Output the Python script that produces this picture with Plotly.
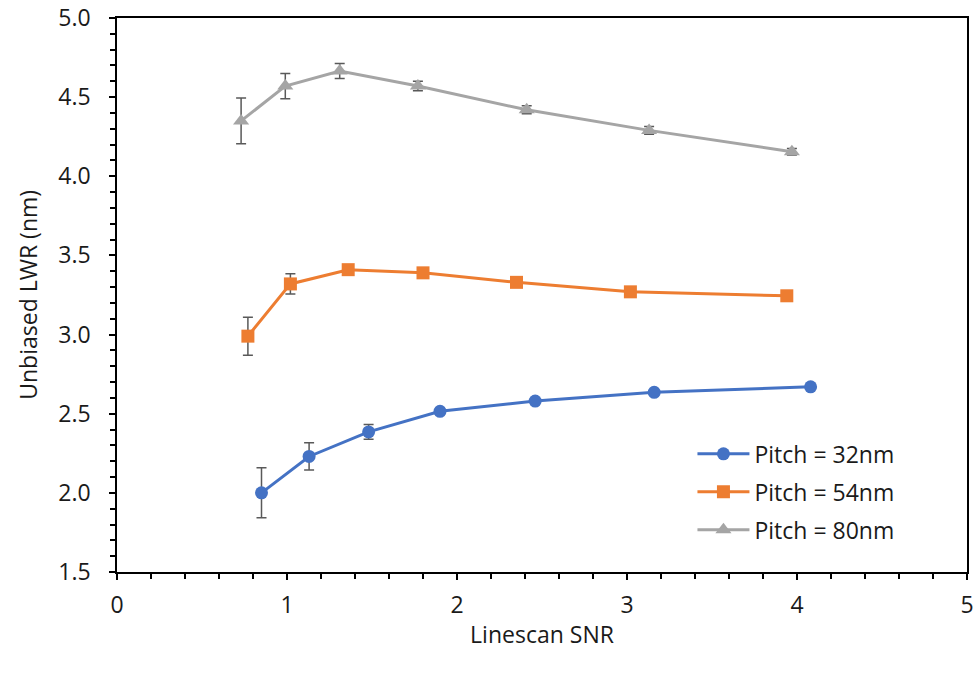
import plotly.graph_objects as go

# Data
x32 = [0.85, 1.13, 1.48, 1.90, 2.46, 3.16, 4.08]
y32 = [2.00, 2.23, 2.385, 2.515, 2.58, 2.635, 2.67]
e32 = [0.158, 0.086, 0.047, 0.02, 0.015, 0.015, 0.012]

x54 = [0.77, 1.02, 1.36, 1.80, 2.35, 3.02, 3.94]
y54 = [2.99, 3.32, 3.41, 3.39, 3.33, 3.27, 3.245]
e54 = [0.12, 0.064, 0.03, 0.02, 0.015, 0.015, 0.015]

x80 = [0.73, 0.99, 1.31, 1.77, 2.41, 3.13, 3.97]
y80 = [4.35, 4.57, 4.665, 4.57, 4.42, 4.29, 4.155]
e80 = [0.145, 0.08, 0.048, 0.03, 0.025, 0.025, 0.02]

names = ["Pitch = 32nm", "Pitch = 54nm", "Pitch = 80nm"]
colors = ["#4472C4", "#ED7D31", "#A5A5A5"]
symbols = ["circle", "square", "triangle-up"]
msizes = [13, 13, 14]

x_ticks = [0, 1, 2, 3, 4, 5]
y_ticks = [1.5, 2.0, 2.5, 3.0, 3.5, 4.0, 4.5, 5.0]

FONT = "Open Sans"
TXT = "#1a1a1a"
FS = 23

fig = go.Figure()
for xs, ys, es, nm, c, s, ms in zip([x32, x54, x80], [y32, y54, y80], [e32, e54, e80],
                                    names, colors, symbols, msizes):
    fig.add_trace(go.Scatter(
        x=xs, y=ys, name=nm, mode="lines+markers", legendgroup=nm,
        line=dict(color=c, width=3),
        marker=dict(symbol=s, size=ms, color=c),
        error_y=dict(type="data", array=es, visible=True, color="#595959",
                     thickness=1.5, width=5),
    ))

axis_common = dict(showgrid=False, zeroline=False, automargin=False)

fig.update_layout(
    width=977, height=677,
    margin=dict(l=117, r=10, t=18, b=105),
    paper_bgcolor="white", plot_bgcolor="white",
    font=dict(family=FONT, color=TXT, size=FS),
    showlegend=True,
    legend=dict(x=0.677, y=0.252, xanchor="left", yanchor="top",
                bgcolor="rgba(0,0,0,0)", borderwidth=0,
                font=dict(size=FS, family=FONT, color=TXT),
                tracegroupgap=5, itemwidth=52),
    xaxis=dict(range=[0, 5], tickvals=x_ticks, ticktext=[str(v) for v in x_ticks],
               ticks="outside", ticklen=6, tickwidth=1.5, tickcolor="black",
               showline=True, linecolor="black", linewidth=1.5, mirror=True,
               minor=dict(dtick=0.2, ticks="outside", ticklen=5, tickwidth=1.5, tickcolor="black"),
               tickfont=dict(size=FS, family=FONT, color=TXT), ticklabelstandoff=6,
               title=dict(text="Linescan SNR", font=dict(size=FS, family=FONT, color=TXT), standoff=8),
               **axis_common),
    yaxis=dict(range=[1.5, 5.0], tickvals=y_ticks, ticktext=[f"{v:.1f}" for v in y_ticks],
               ticks="outside", ticklen=6, tickwidth=1.5, tickcolor="black",
               showline=True, linecolor="black", linewidth=1.5, mirror=True,
               minor=dict(dtick=0.1, ticks="outside", ticklen=5, tickwidth=1.5, tickcolor="black"),
               tickfont=dict(size=FS, family=FONT, color=TXT), ticklabelstandoff=14,
               **axis_common),
    xaxis2=dict(overlaying="x", range=[0, 5], tickvals=x_ticks, showticklabels=False,
                ticks="inside", ticklen=6, tickwidth=1.5, tickcolor="black",
                showline=False, side="bottom", anchor="y", **axis_common),
    yaxis2=dict(overlaying="y", range=[1.5, 5.0], tickvals=y_ticks, showticklabels=False,
                ticks="inside", ticklen=6, tickwidth=1.5, tickcolor="black",
                showline=False, side="left", anchor="x", **axis_common),
    annotations=[dict(text="Unbiased LWR (nm)", xref="paper", yref="paper",
                      x=-0.105, y=0.5, xanchor="center", yanchor="middle",
                      textangle=-90, showarrow=False,
                      font=dict(size=FS, family=FONT, color=TXT))],
)

fig.write_html("out.html")
